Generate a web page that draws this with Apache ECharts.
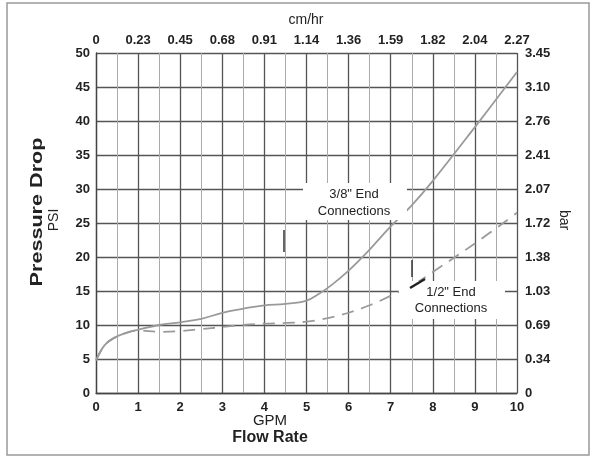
<!DOCTYPE html>
<html>
<head>
<meta charset="utf-8">
<script src="https://cdn.jsdelivr.net/npm/echarts@6/dist/echarts.min.js"></script>
<style>
  html, body { margin: 0; padding: 0; background: #fff; }
  #chart { width: 595px; height: 457px; }
</style>
</head>
<body>
<div id="chart"></div>
<script>
// flow rate (GPM) vs pressure drop (PSI)
const flow38 = [0, 0.2, 0.4, 0.7, 1.0, 1.5, 2.0, 2.5, 3.0, 3.5, 4.0, 4.5, 5.0, 5.3, 5.6, 6.0, 6.5, 7.0, 7.5, 8.0, 9.0, 10]
const psi38 = [4.8, 7.0, 8.0, 8.8, 9.3, 10.0, 10.4, 10.9, 11.8, 12.4, 12.9, 13.1, 13.6, 14.6, 15.9, 18.0, 21.1, 24.5, 27.6, 31.2, 39.1, 47.2]
const flow12 = [0, 0.2, 0.4, 0.7, 1.0, 1.5, 2.0, 2.5, 3.0, 3.5, 4.0, 4.5, 5.0, 5.5, 6.0, 6.5, 7.0, 7.5, 8.0, 9.0, 10]
const psi12 = [4.8, 7.0, 8.0, 8.8, 9.2, 9.0, 9.1, 9.4, 9.7, 10.0, 10.2, 10.3, 10.5, 11.0, 11.8, 12.9, 14.3, 15.8, 17.8, 22.0, 26.5]

const cmLabels = ['0', '0.23', '0.45', '0.68', '0.91', '1.14', '1.36', '1.59', '1.82', '2.04', '2.27']
const barLabels = ['0', '0.34', '0.69', '1.03', '1.38', '1.72', '2.07', '2.41', '2.76', '3.10', '3.45']

const font = 'Liberation Sans, Arial, sans-serif'
const ink = '#222'
const tickLabel = { color: ink, fontFamily: font, fontSize: 13, fontWeight: 'bold' }

const chart = echarts.init(document.getElementById('chart'))

chart.setOption({
  backgroundColor: '#fff',
  animation: false,
  grid: { left: 96, right: 78, top: 53, bottom: 64 },
  xAxis: [{
    type: 'value',
    position: 'bottom',
    min: 0, max: 10, interval: 1,
    axisLine: { show: true, lineStyle: { color: '#444', width: 1.3 } },
    axisTick: { show: false },
    axisLabel: Object.assign({ margin: 8 }, tickLabel),
    splitLine: { show: true, lineStyle: { color: '#555', width: 1.3 } },
    minorTick: { show: false, splitNumber: 2 },
    minorSplitLine: { show: true, lineStyle: { color: '#aaa', width: 1 } }
  }, {
    type: 'value',
    position: 'top',
    min: 0, max: 10, interval: 1,
    axisLine: { show: false },
    axisTick: { show: false },
    splitLine: { show: false },
    axisLabel: Object.assign({ margin: 6, formatter: v => cmLabels[Math.round(v)] }, tickLabel)
  }],
  yAxis: [{
    type: 'value',
    position: 'left',
    min: 0, max: 50, interval: 5,
    axisLine: { show: true, lineStyle: { color: '#444', width: 1.3 } },
    axisTick: { show: false },
    axisLabel: Object.assign({ margin: 6 }, tickLabel),
    splitLine: { show: true, lineStyle: { color: '#555', width: 1.3 } }
  }, {
    type: 'value',
    position: 'right',
    min: 0, max: 50, interval: 5,
    axisLine: { show: false },
    axisTick: { show: false },
    splitLine: { show: false },
    axisLabel: Object.assign({ margin: 8, formatter: v => barLabels[Math.round(v / 5)] }, tickLabel)
  }],
  series: [{
    name: '3/8" End Connections',
    type: 'line',
    smooth: 0.4,
    showSymbol: false,
    data: flow38.map((x, i) => [x, psi38[i]]),
    lineStyle: { color: '#9a9a9a', width: 1.8 },
    z: 3
  }, {
    name: '1/2" End Connections',
    type: 'line',
    smooth: 0.4,
    showSymbol: false,
    data: flow12.map((x, i) => [x, psi12[i]]),
    lineStyle: { color: '#9a9a9a', width: 1.8, type: [12, 8] },
    z: 3
  }],
  graphic: [
    { type: 'rect', shape: { x: 7, y: 3, width: 582, height: 452 }, style: { fill: 'none', stroke: '#999', lineWidth: 1.5 }, z: 0 },
    { type: 'text', x: 306, y: 20, style: { text: 'cm/hr', font: '14px ' + font, fill: ink, textAlign: 'center', textVerticalAlign: 'middle' } },
    { type: 'text', x: 270, y: 421, style: { text: 'GPM', font: '15px ' + font, fill: ink, textAlign: 'center', textVerticalAlign: 'middle' } },
    { type: 'text', x: 270, y: 438, style: { text: 'Flow Rate', font: 'bold 16px ' + font, fill: ink, textAlign: 'center', textVerticalAlign: 'middle' } },
    { type: 'text', x: 38, y: 212, rotation: Math.PI / 2, scaleX: 1.35,
      style: { text: 'Pressure Drop', font: 'bold 16px ' + font, fill: ink, textAlign: 'center', textVerticalAlign: 'middle' } },
    { type: 'text', x: 54, y: 220, rotation: Math.PI / 2,
      style: { text: 'PSI', font: '14px ' + font, fill: ink, textAlign: 'center', textVerticalAlign: 'middle' } },
    { type: 'text', x: 564, y: 220, rotation: -Math.PI / 2,
      style: { text: 'bar', font: '14px ' + font, fill: ink, textAlign: 'center', textVerticalAlign: 'middle' } },
    { type: 'rect', shape: { x: 303, y: 183, width: 104, height: 37 }, style: { fill: '#fff' }, z: 10 },
    { type: 'text', x: 354, y: 203, z: 11,
      style: { text: '3/8" End\nConnections', font: '13px ' + font, lineHeight: 17, fill: ink, textAlign: 'center', textVerticalAlign: 'middle' } },
    { type: 'rect', shape: { x: 399, y: 281, width: 106, height: 38 }, style: { fill: '#fff' }, z: 10 },
    { type: 'text', x: 451, y: 300, z: 11,
      style: { text: '1/2" End\nConnections', font: '13px ' + font, lineHeight: 16, fill: ink, textAlign: 'center', textVerticalAlign: 'middle' } },
    { type: 'line', shape: { x1: 284, y1: 230, x2: 284, y2: 252 }, style: { stroke: '#333', lineWidth: 1.5 }, z: 11 },
    { type: 'line', shape: { x1: 412, y1: 260, x2: 412, y2: 277 }, style: { stroke: '#333', lineWidth: 1.5 }, z: 11 },
    { type: 'line', shape: { x1: 410, y1: 288, x2: 425, y2: 279 }, style: { stroke: '#222', lineWidth: 2.5 }, z: 11 }
  ]
})
</script>
</body>
</html>
